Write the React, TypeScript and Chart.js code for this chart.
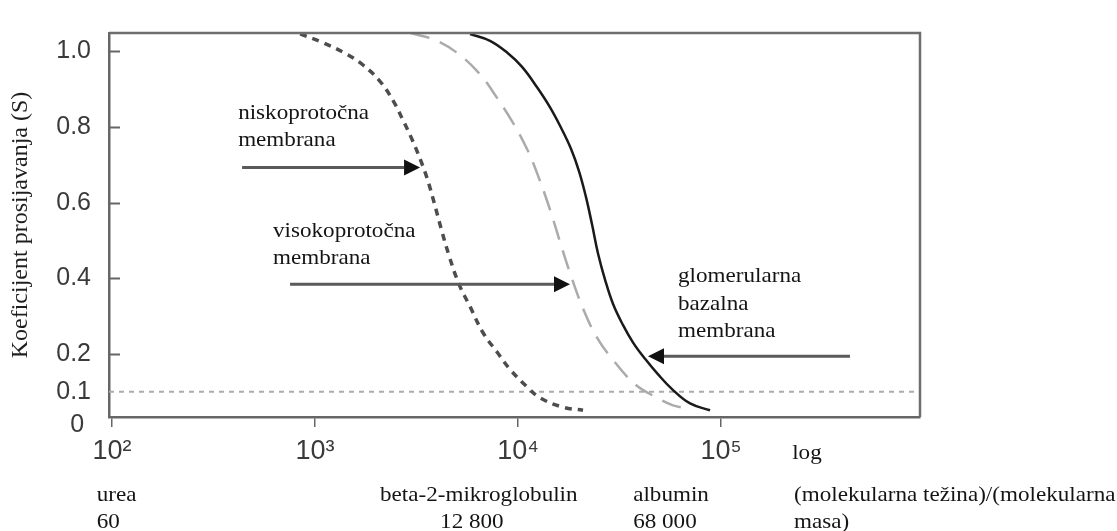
import React, { useEffect, useRef } from "react";
import { Chart, registerables } from "chart.js";

Chart.register(...registerables);

// ---- data (molecular weight on log axis, sieving coefficient S) ----
const lowFluxX = [844, 1094, 1437, 1723, 2089, 2423, 2713, 3006, 3290, 3562, 3856, 4176, 4571, 5122, 5803, 6724, 7880, 9136, 11070, 12830, 16670, 20890];
const lowFluxS = [1.046, 1.023, 0.992, 0.964, 0.921, 0.87, 0.818, 0.767, 0.716, 0.665, 0.601, 0.532, 0.46, 0.384, 0.325, 0.256, 0.205, 0.159, 0.113, 0.084, 0.059, 0.051];

const highFluxX = [2938, 3990, 5180, 6500, 7880, 9445, 11070, 12410, 14380, 16100, 18030, 20890, 24490, 29380, 37680, 48390, 58030, 68040];
const highFluxS = [1.049, 1.028, 0.99, 0.939, 0.877, 0.811, 0.742, 0.678, 0.581, 0.496, 0.414, 0.32, 0.243, 0.184, 0.12, 0.084, 0.064, 0.056];

const gbmX = [5800, 7280, 8828, 10464, 12405, 14376, 16285, 18245, 19976, 21627, 23149, 24784, 26838, 29376, 32906, 36864, 42230, 48940, 57350, 70360, 88290];
const gbmS = [1.046, 1.028, 0.997, 0.959, 0.905, 0.852, 0.798, 0.742, 0.683, 0.614, 0.542, 0.465, 0.396, 0.332, 0.276, 0.23, 0.187, 0.146, 0.107, 0.069, 0.051];

const thresholdS = 0.1;

const xMin = 96.6;
const xMax = 955000;
const yMin = 0.0332;
const yMax = 1.0486;

const xTickValues = [100, 1000, 10000, 100000];
const xTickLabels = ["10\u00B2", "10\u00B3", "10\u2074", "10\u2075"];

const yTickValues = [0.013, 0.1, 0.2, 0.4, 0.6, 0.8, 1.0];
const yTickLabels = ["0 ", "0.1", "0.2", "0.4", "0.6", "0.8", "1.0"];
const yInnerTicks = [0.2, 0.4, 0.6, 0.8, 1.0];

const yTitle = "Koeficijent prosijavanja (S)";

// annotation labels (positions in data coordinates)
const noteLines = [
  ["niskoprotočna", "membrana"],
  ["visokoprotočna", "membrana"],
  ["glomerularna", "bazalna", "membrana"],
];
const noteX = [418, 621, 61400];
const noteS = [0.836, 0.524, 0.404];

// arrows: from (x, s) to tip (x, s)
const arrowFromX = [437, 753, 431500];
const arrowToX = [3290, 18030, 43650];
const arrowS = [0.693, 0.384, 0.194];

// labels below the axis
const moleculeNames = ["urea", "beta-2-mikroglobulin", "albumin", "(molekularna težina)/(molekularna"];
const moleculeNamesX = [84, 2089, 36900, 229000];
const moleculeMasses = ["60", "12 800", "68 000", "masa)"];
const moleculeMassesX = [84, 4130, 36900, 229000];
const axisNote = "log";
const axisNoteX = 224000;

const SERIF = "'Liberation Serif', 'Times New Roman', serif";
const SANS = "'Liberation Sans', Arial, 'DejaVu Sans', sans-serif";

const overlayPlugin = {
  id: "overlay",
  afterDraw(chart: any) {
    const { ctx, chartArea: a, scales } = chart;
    const x = scales.x;
    const y = scales.y;
    ctx.save();

    // frame: top and right
    ctx.strokeStyle = "#6e6e6e";
    ctx.lineWidth = 2.5;
    ctx.beginPath();
    ctx.moveTo(a.left, a.top);
    ctx.lineTo(a.right, a.top);
    ctx.lineTo(a.right, a.bottom);
    ctx.stroke();

    // inner y tick marks
    ctx.lineWidth = 2;
    ctx.strokeStyle = "#666";
    ctx.beginPath();
    for (const v of yInnerTicks) {
      const py = Math.round(y.getPixelForValue(v)) + 0.5;
      ctx.moveTo(a.left, py);
      ctx.lineTo(a.left + 11, py);
    }
    ctx.stroke();

    const sx = 1.1;
    const drawText = (t: string, px: number, py: number) => {
      ctx.save();
      ctx.translate(px, py);
      ctx.scale(sx, 1);
      ctx.fillText(t, 0, 0);
      ctx.restore();
    };

    ctx.fillStyle = "#141414";
    ctx.font = "21px " + SERIF;
    ctx.textAlign = "left";
    ctx.textBaseline = "middle";

    // notes
    noteLines.forEach((lines, i) => {
      const px = x.getPixelForValue(noteX[i]);
      const py = y.getPixelForValue(noteS[i]);
      lines.forEach((l, j) => drawText(l, px, py + j * 27.5));
    });

    // arrows
    arrowS.forEach((s, i) => {
      const x0 = x.getPixelForValue(arrowFromX[i]);
      const x1 = x.getPixelForValue(arrowToX[i]);
      const py = y.getPixelForValue(s);
      const dir = x1 > x0 ? 1 : -1;
      const head = 16;
      ctx.strokeStyle = "#5a5a5a";
      ctx.lineWidth = 3;
      ctx.beginPath();
      ctx.moveTo(x0, py);
      ctx.lineTo(x1 - dir * head, py);
      ctx.stroke();
      ctx.fillStyle = "#111";
      ctx.beginPath();
      ctx.moveTo(x1, py);
      ctx.lineTo(x1 - dir * head, py - 8);
      ctx.lineTo(x1 - dir * head, py + 8);
      ctx.closePath();
      ctx.fill();
    });

    // below-axis labels
    ctx.fillStyle = "#141414";
    drawText(axisNote, x.getPixelForValue(axisNoteX), a.bottom + 36);
    moleculeNames.forEach((t, i) => drawText(t, x.getPixelForValue(moleculeNamesX[i]), a.bottom + 78));
    moleculeMasses.forEach((t, i) => drawText(t, x.getPixelForValue(moleculeMassesX[i]), a.bottom + 105));

    ctx.restore();
  },
};

function toPoints(xs: number[], ys: number[]) {
  return xs.map((v, i) => ({ x: v, y: ys[i] }));
}

export default function App() {
  const canvasRef = useRef<HTMLCanvasElement | null>(null);

  useEffect(() => {
    document.body.style.margin = "0";
    const canvas = canvasRef.current;
    if (!canvas) return;
    const chart = new Chart(canvas, {
      type: "line",
      data: {
        datasets: [
          {
            label: "niskoprotočna membrana",
            data: toPoints(lowFluxX, lowFluxS),
            borderColor: "#4d4d4d",
            borderWidth: 3.5,
            borderDash: [7, 6],
            pointRadius: 0,
            tension: 0.4,
            fill: false,
          },
          {
            label: "visokoprotočna membrana",
            data: toPoints(highFluxX, highFluxS),
            borderColor: "#ababab",
            borderWidth: 2.5,
            borderDash: [20, 11],
            pointRadius: 0,
            tension: 0.4,
            fill: false,
          },
          {
            label: "glomerularna bazalna membrana",
            data: toPoints(gbmX, gbmS),
            borderColor: "#1a1a1a",
            borderWidth: 2.5,
            pointRadius: 0,
            tension: 0.4,
            fill: false,
          },
          {
            label: "S = 0.1",
            data: [
              { x: xMin, y: thresholdS },
              { x: xMax, y: thresholdS },
            ],
            borderColor: "#ababab",
            borderWidth: 2,
            borderDash: [5, 5],
            pointRadius: 0,
            fill: false,
          },
        ],
      },
      options: {
        responsive: false,
        animation: false,
        devicePixelRatio: 1,
        layout: { padding: { left: 0, top: 20, right: 197, bottom: 0 } },
        plugins: {
          legend: { display: false },
          tooltip: { enabled: false },
          title: { display: false },
        },
        scales: {
          x: {
            type: "logarithmic",
            min: xMin,
            max: xMax,
            afterBuildTicks: (axis: any) => {
              axis.ticks = xTickValues.map((v) => ({ value: v }));
            },
            afterFit: (axis: any) => {
              axis.height = 114;
            },
            border: { display: true, color: "#666", width: 2.5 },
            grid: {
              display: true,
              drawOnChartArea: false,
              drawTicks: true,
              tickLength: 10,
              color: "#666",
              lineWidth: 1.5,
            },
            ticks: {
              autoSkip: false,
              maxRotation: 0,
              padding: 8,
              color: "#3a3a3a",
              font: { family: SANS, size: 27 },
              callback: (_v: any, i: number) => xTickLabels[i],
            },
          },
          y: {
            type: "linear",
            min: yMin,
            max: yMax,
            afterBuildTicks: (axis: any) => {
              axis.ticks = yTickValues.map((v) => ({ value: v }));
            },
            afterFit: (axis: any) => {
              axis.width = 109;
            },
            border: { display: true, color: "#666", width: 2.5 },
            grid: { display: false, drawTicks: false },
            ticks: {
              autoSkip: false,
              padding: 18,
              color: "#3a3a3a",
              font: { family: SANS, size: 25 },
              callback: (_v: any, i: number) => yTickLabels[i],
            },
            title: {
              display: true,
              text: yTitle,
              color: "#1e1e1e",
              font: { family: SERIF, size: 24 },
              padding: { top: 6, bottom: 0 },
            },
          },
        },
      },
      plugins: [overlayPlugin],
    } as any);
    return () => chart.destroy();
  }, []);

  return (
    <div style={{ width: 1117, height: 531, background: "#fff" }}>
      <canvas ref={canvasRef} width={1117} height={531} style={{ display: "block" }} />
    </div>
  );
}
